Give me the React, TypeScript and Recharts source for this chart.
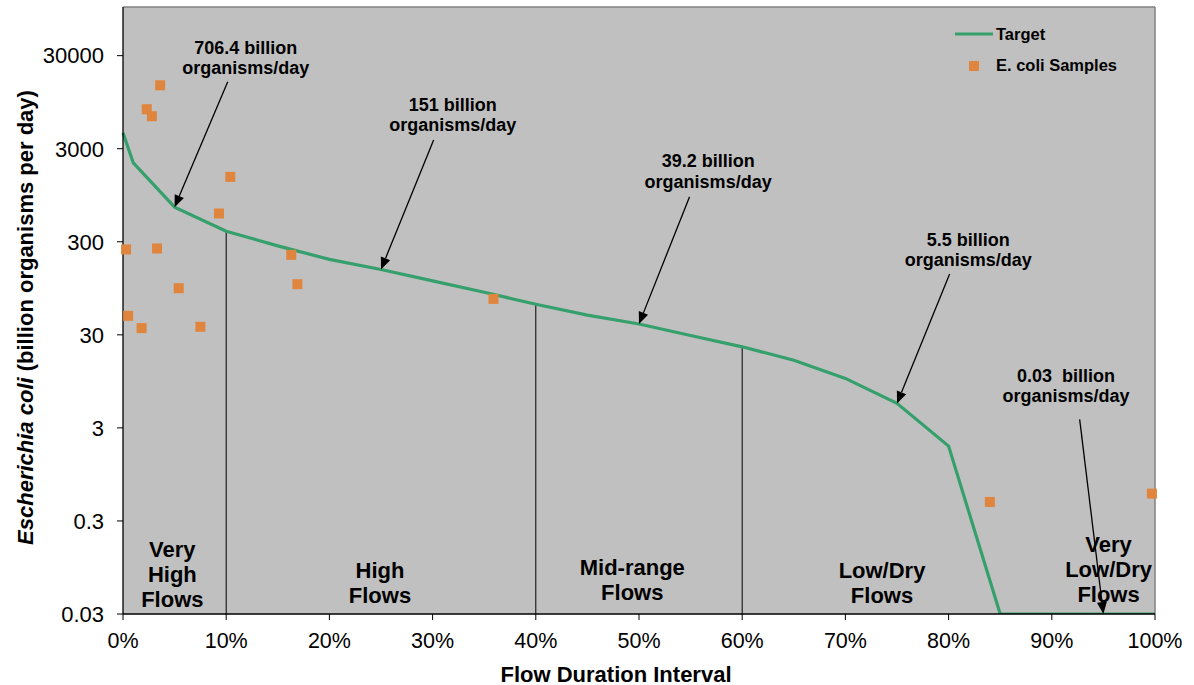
import {
  ComposedChart,
  Line,
  Scatter,
  XAxis,
  YAxis,
  CartesianGrid,
  ReferenceLine,
  ReferenceDot,
  Legend,
  Label,
} from 'recharts';

const FONT = "Arial, 'Liberation Sans', sans-serif";
const GREEN = '#35A06C';
const ORANGE = '#E0853D';

// load duration curve (target)
const flowPct = [0, 1, 5, 10, 15, 20, 25, 30, 35, 40, 45, 50, 55, 60, 65, 70, 75, 80, 85, 90, 95, 100];
const targetLoad = [4440, 2110, 706.4, 390, 271, 194, 151, 114, 86, 64, 48.8, 39.2, 29.5, 22.3, 16, 10.2, 5.5, 1.91, 0.03, 0.03, 0.03, 0.03];

// observed samples
const sampleFlow = [3.6, 2.3, 2.8, 10.4, 9.3, 0.3, 3.3, 16.3, 16.9, 5.4, 0.5, 1.8, 7.5, 35.9, 84.0, 99.7];
const sampleLoad = [14400, 7970, 6700, 1494, 604, 248, 254, 217, 105, 95, 48, 35.4, 36.6, 73, 0.48, 0.59];

const xTicks = [0, 10, 20, 30, 40, 50, 60, 70, 80, 90, 100];
const yTicks = [0.03, 0.3, 3, 30, 300, 3000, 30000];

// flow regime boundaries drawn down from the curve
const dividerFlow = [10, 40, 60];
const dividerLoad = [390, 64, 22.3];

// callouts: text anchor (first baseline) and arrow from -> to, in data units
const callouts = [
  { lines: ['706.4 billion', 'organisms/day'], x: 11.9, y: 31260, from: { x: 10.15, y: 15740 }, to: { x: 5, y: 706.4 } },
  { lines: ['151 billion', 'organisms/day'], x: 31.96, y: 7680, from: { x: 30.1, y: 3720 }, to: { x: 25, y: 151 } },
  { lines: ['39.2 billion', 'organisms/day'], x: 56.7, y: 1893, from: { x: 54.9, y: 914 }, to: { x: 50, y: 39.2 } },
  { lines: ['5.5 billion', 'organisms/day'], x: 81.9, y: 272, from: { x: 80.1, y: 135 }, to: { x: 75, y: 5.5 } },
  { lines: ['0.03  billion', 'organisms/day'], x: 91.37, y: 9.4, from: { x: 92.7, y: 3.71 }, to: { x: 95, y: 0.03 } },
];

const regions = [
  { lines: ['Very', 'High', 'Flows'], x: 4.78, y: 0.123 },
  { lines: ['High', 'Flows'], x: 24.9, y: 0.0726 },
  { lines: ['Mid-range', 'Flows'], x: 49.35, y: 0.078 },
  { lines: ['Low/Dry', 'Flows'], x: 73.55, y: 0.0726 },
  { lines: ['Very', 'Low/Dry', 'Flows'], x: 95.5, y: 0.14 },
];

const lineData = flowPct.map((x, i) => ({ x, y: targetLoad[i] }));
const sampleData = sampleFlow.map((x, i) => ({ x, y: sampleLoad[i] }));

const textBlock = (lines: string[], size: number, gap: number) => (props: any) => {
  const { cx, cy } = props;
  return (
    <text
      x={cx}
      y={cy}
      textAnchor="middle"
      fontFamily={FONT}
      fontWeight="bold"
      fontSize={size}
      fill="#000"
      style={{ whiteSpace: 'pre' }}
    >
      {lines.map((l, i) => (
        <tspan key={i} x={cx} dy={i === 0 ? 0 : gap}>
          {l}
        </tspan>
      ))}
    </text>
  );
};

const Arrow = (props: any) => {
  const { x1, y1, x2, y2 } = props;
  const ang = Math.atan2(y2 - y1, x2 - x1);
  const len = 12;
  const half = 5;
  const bx = x2 - len * Math.cos(ang);
  const by = y2 - len * Math.sin(ang);
  const px = -Math.sin(ang) * half;
  const py = Math.cos(ang) * half;
  return (
    <g>
      <line x1={x1} y1={y1} x2={bx} y2={by} stroke="#000" strokeWidth={1.3} />
      <polygon points={`${x2},${y2} ${bx + px},${by + py} ${bx - px},${by - py}`} fill="#000" />
    </g>
  );
};

const Square = (props: any) => {
  const { cx, cy } = props;
  return <rect x={cx - 5} y={cy - 5} width={10} height={10} fill={ORANGE} />;
};

const YTitle = (props: any) => {
  const { viewBox } = props;
  const cx = 33;
  const cy = viewBox.y + viewBox.height / 2 + 7;
  return (
    <text
      x={cx}
      y={cy}
      transform={`rotate(-90 ${cx} ${cy})`}
      textAnchor="middle"
      fontFamily={FONT}
      fontWeight="bold"
      fontSize={22}
      fill="#000"
    >
      <tspan fontStyle="italic">Escherichia coli</tspan>
      <tspan> (billion organisms per day)</tspan>
    </text>
  );
};

const XTitle = (props: any) => {
  const { viewBox } = props;
  return (
    <text
      x={viewBox.x + viewBox.width / 2 - 23}
      y={viewBox.y + 67.5}
      textAnchor="middle"
      fontFamily={FONT}
      fontWeight="bold"
      fontSize={22}
      fill="#000"
    >
      Flow Duration Interval
    </text>
  );
};

const LegendBox = () => (
  <div style={{ fontFamily: FONT, fontWeight: 'bold', fontSize: 16.5, color: '#000' }}>
    <div style={{ display: 'flex', alignItems: 'center', height: 24 }}>
      <svg width={41} height={10}>
        <line x1={0} x2={38} y1={5} y2={5} stroke={GREEN} strokeWidth={3} />
      </svg>
      <span>Target</span>
    </div>
    <div style={{ display: 'flex', alignItems: 'center', height: 24, marginTop: 7.7 }}>
      <svg width={41} height={10}>
        <rect x={14} y={0} width={10} height={10} fill={ORANGE} />
      </svg>
      <span>E. coli Samples</span>
    </div>
  </div>
);

export default function App() {
  return (
    <div style={{ position: 'absolute', left: 0, top: 0 }}>
      <ComposedChart
        width={1194}
        height={685}
        data={lineData}
        margin={{ top: 7, right: 39, bottom: 0, left: 0 }}
      >
        <CartesianGrid fill="#C0C0C0" horizontal={false} vertical={false} />
        <XAxis
          type="number"
          dataKey="x"
          domain={[0, 100]}
          ticks={xTicks}
          tickFormatter={(v) => `${v}%`}
          height={71}
          axisLine={{ stroke: '#000', strokeWidth: 1.3 }}
          tickLine={{ stroke: '#000' }}
          tickSize={6}
          tickMargin={13}
          tick={{ fill: '#000', fontSize: 21.5, fontFamily: FONT }}
          interval={0}
        >
          <Label content={<XTitle />} />
        </XAxis>
        <YAxis
          scale="log"
          domain={[0.03, 100000]}
          allowDataOverflow
          ticks={yTicks}
          width={123}
          axisLine={{ stroke: '#000', strokeWidth: 1.3 }}
          tickLine={{ stroke: '#000' }}
          tickSize={6}
          tickMargin={13}
          tick={{ fill: '#000', fontSize: 22, fontFamily: FONT }}
          interval={0}
        >
          <Label content={<YTitle />} />
        </YAxis>

        <ReferenceLine y={100000} stroke="#808080" strokeWidth={1.5} />
        <ReferenceLine x={100} stroke="#808080" strokeWidth={1.5} />

        {dividerFlow.map((f, i) => (
          <ReferenceLine
            key={`d${i}`}
            segment={[
              { x: f, y: dividerLoad[i] },
              { x: f, y: 0.03 },
            ]}
            stroke="#000"
            strokeWidth={1}
          />
        ))}

        <Line
          type="linear"
          dataKey="y"
          name="Target"
          stroke={GREEN}
          strokeWidth={3.2}
          dot={false}
          activeDot={false}
          isAnimationActive={false}
        />
        <Scatter
          data={sampleData}
          dataKey="y"
          name="E. coli Samples"
          fill={ORANGE}
          shape={<Square />}
          isAnimationActive={false}
        />

        {callouts.map((c, i) => (
          <ReferenceLine
            key={`a${i}`}
            segment={[c.from, c.to]}
            shape={<Arrow />}
          />
        ))}
        {callouts.map((c, i) => (
          <ReferenceDot
            key={`t${i}`}
            x={c.x}
            y={c.y}
            r={0}
            shape={textBlock(c.lines, 18, 20.5)}
          />
        ))}
        {regions.map((r, i) => (
          <ReferenceDot
            key={`r${i}`}
            x={r.x}
            y={r.y}
            r={0}
            shape={textBlock(r.lines, 22, 25)}
          />
        ))}

        <Legend
          layout="vertical"
          align="center"
          verticalAlign="middle"
          content={<LegendBox />}
          wrapperStyle={{ top: 22, left: 955, width: 'auto', height: 'auto' }}
        />
      </ComposedChart>
    </div>
  );
}
